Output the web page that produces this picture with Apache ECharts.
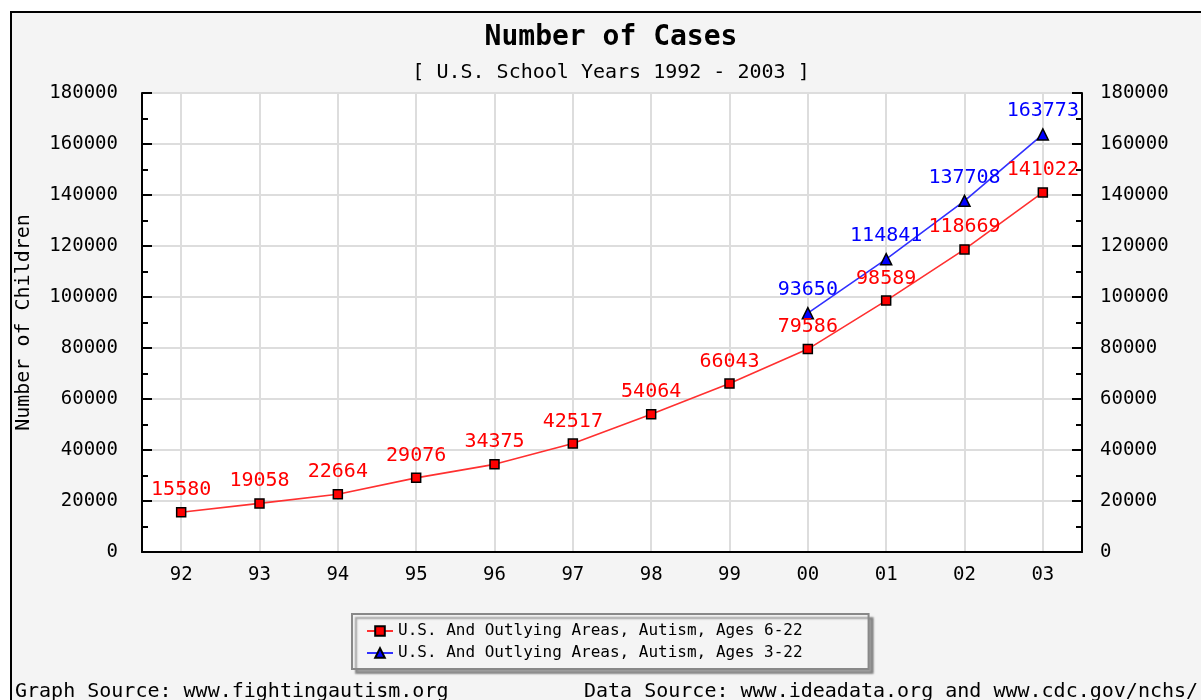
<!DOCTYPE html>
<html><head><meta charset="utf-8">
<script src="https://cdn.jsdelivr.net/npm/echarts@6/dist/echarts.min.js"></script>
<style>html,body{margin:0;padding:0;background:#fff}#c{width:1201px;height:700px}</style>
</head><body><div id="c"></div>
<script>
const categories = ['92','93','94','95','96','97','98','99','00','01','02','03'];
const ages6to22 = [15580,19058,22664,29076,34375,42517,54064,66043,79586,98589,118669,141022];
const ages3to22 = [null,null,null,null,null,null,null,null,93650,114841,137708,163773];
const seriesNames = ['U.S. And Outlying Areas, Autism, Ages 6-22','U.S. And Outlying Areas, Autism, Ages 3-22'];
const titleText = 'Number of Cases';
const subtitleText = '[ U.S. School Years 1992 - 2003 ]';
const yAxisName = 'Number of Children';
const graphSource = 'Graph Source: www.fightingautism.org';
const dataSource = 'Data Source: www.ideadata.org and www.cdc.gov/nchs/';

const MONO = '"DejaVu Sans Mono", "Liberation Mono", monospace';
const chart = echarts.init(document.getElementById('c'));
const yAxisCommon = {
  type: 'value', min: 0, max: 180000, interval: 20000,
  axisLine: {show: true, lineStyle: {color: '#000', width: 2}},
  axisTick: {show: true, inside: true, length: 10, lineStyle: {color: '#000', width: 2}},
  minorTick: {show: true, splitNumber: 2, length: 6, lineStyle: {color: '#000', width: 2}},
  splitLine: {show: true, lineStyle: {color: '#dddddd', width: 2}},
  axisLabel: {color: '#000', fontFamily: MONO, fontSize: 19, formatter: v => String(v)}
};
chart.setOption({
  backgroundColor: '#ffffff',
  animation: false,
  graphic: [
    {type: 'rect', z: -10, shape: {x: 11, y: 12, width: 1250, height: 750},
     style: {fill: '#f4f4f4', stroke: '#000', lineWidth: 2}}
  ],
  title: [
    {text: titleText, left: 611, top: 24, padding: 0, textAlign: 'center',
     textStyle: {fontFamily: MONO, fontSize: 28, fontWeight: 'bold', color: '#000'}},
    {text: subtitleText, left: 611, top: 63, padding: 0, textAlign: 'center',
     textStyle: {fontFamily: MONO, fontSize: 20, fontWeight: 'normal', color: '#000'}},
    {text: graphSource, left: 15, top: 682, padding: 0,
     textStyle: {fontFamily: MONO, fontSize: 20, fontWeight: 'normal', color: '#000'}},
    {text: dataSource, left: 584, top: 682, padding: 0,
     textStyle: {fontFamily: MONO, fontSize: 20, fontWeight: 'normal', color: '#000'}}
  ],
  legend: {
    orient: 'vertical', left: 352, top: 614,
    padding: [9, 66, 8, 14], itemGap: 6, itemWidth: 26, itemHeight: 12,
    backgroundColor: '#f4f4f4', borderColor: '#888', borderWidth: 2,
    shadowColor: 'rgba(0,0,0,0.35)', shadowBlur: 2, shadowOffsetX: 4, shadowOffsetY: 4,
    textStyle: {fontFamily: MONO, fontSize: 16, color: '#000'},
    data: seriesNames
  },
  grid: {left: 142, right: 119, top: 93, bottom: 148, show: true, backgroundColor: '#ffffff', borderWidth: 0},
  xAxis: {
    type: 'category', data: categories, boundaryGap: true,
    axisLine: {lineStyle: {color: '#000', width: 2}},
    axisTick: {show: false, alignWithLabel: true},
    splitLine: {show: true, alignWithLabel: true, lineStyle: {color: '#dddddd', width: 2}},
    axisLabel: {color: '#000', fontFamily: MONO, fontSize: 19, margin: 14}
  },
  yAxis: [
    Object.assign({}, yAxisCommon, {position: 'left', name: yAxisName, nameLocation: 'middle', nameGap: 108, nameRotate: 90,
      nameTextStyle: {fontFamily: MONO, fontSize: 20, color: '#000'},
      axisLabel: Object.assign({}, yAxisCommon.axisLabel, {margin: 24})}),
    Object.assign({}, yAxisCommon, {position: 'right', splitLine: {show: false},
      axisLabel: Object.assign({}, yAxisCommon.axisLabel, {margin: 18})})
  ],
  series: [
    {name: seriesNames[0], type: 'line', data: ages6to22, smooth: false,
     symbol: 'rect', symbolSize: 9,
     itemStyle: {color: '#ff0000', borderColor: '#000', borderWidth: 1.5},
     lineStyle: {color: '#ff3030', width: 1.6},
     label: {show: true, position: 'top', distance: 7, color: '#ff0000', fontFamily: MONO, fontSize: 20}},
    {name: seriesNames[1], type: 'line', data: ages3to22, smooth: false,
     symbol: 'triangle', symbolSize: 11,
     itemStyle: {color: '#0000ff', borderColor: '#000', borderWidth: 1.5},
     lineStyle: {color: '#3030ff', width: 1.6},
     label: {show: true, position: 'top', distance: 7, color: '#0000ff', fontFamily: MONO, fontSize: 20}}
  ]
});
</script></body></html>
